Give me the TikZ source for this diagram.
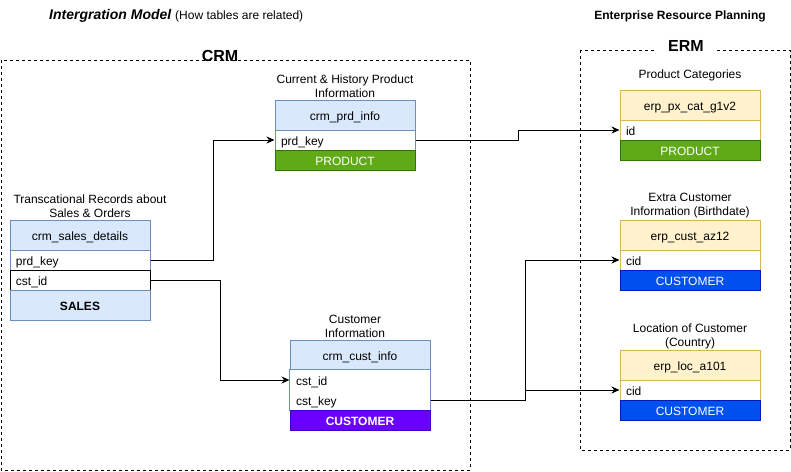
\documentclass[tikz,border=0pt]{standalone}
\usepackage{fontspec}
\setmainfont{Liberation Sans}
\usetikzlibrary{arrows.meta}
\definecolor{crmfill}{HTML}{DAE8FC}
\definecolor{crmline}{HTML}{6C8EBF}
\definecolor{erpfill}{HTML}{FFF2CC}
\definecolor{erpline}{HTML}{D6B656}
\definecolor{prodfill}{HTML}{60A917}
\definecolor{prodline}{HTML}{2D7600}
\definecolor{custfill}{HTML}{6A00FF}
\definecolor{custline}{HTML}{3700CC}
\definecolor{locfill}{HTML}{0050EF}
\definecolor{locline}{HTML}{001DBC}
\tikzset{
	tabhead/.style={minimum width=140pt, minimum height=30pt, inner sep=0pt, line width=1pt, text height=11pt, text depth=1pt},
	tabrow/.style={minimum height=20pt, text width=128pt, inner xsep=6pt, inner ysep=0pt, align=left, fill=white, line width=1pt, text height=11pt, text depth=1pt},
	tabtag/.style={minimum width=140pt, minimum height=20pt, inner sep=0pt, text=white, line width=1pt, text height=11pt, text depth=1pt},
	caption/.style={align=center, inner sep=0pt},
	link/.style={-{Stealth[length=8pt,width=7pt]}, line width=1pt},
	zone/.style={dash pattern=on 3pt off 3pt, line width=1pt}
}
\begin{document}
\begin{tikzpicture}[x=1pt, y=-1pt, font=\fontsize{12}{14}\selectfont]
		\useasboundingbox (0,0) rectangle (791,471);
		
		\node [anchor=west, inner sep=0pt] (title) at (49,16) {\fontsize{14}{16}\selectfont\bfseries\itshape Intergration Model \fontsize{12}{14}\selectfont\mdseries\upshape (How tables are related)};
		\node [inner sep=0pt, font=\fontsize{12}{14}\selectfont\bfseries] (erpTitle) at (680,16) {Enterprise Resource Planning};
		
		\draw [zone] (1,60) rectangle (470,470);
		\draw [zone] (580,50) rectangle (790,450);
		\node [inner sep=0pt, font=\fontsize{16}{18}\selectfont\bfseries] (crmLabel) at (220,56) {CRM};
		\node [fill=white, inner xsep=12pt, inner ysep=2pt, font=\fontsize{16}{18}\selectfont\bfseries] (erpLabel) at (686,46) {ERM};
		
		\node [caption] (piCap) at (345,86) {Current \& History Product\\Information};
		\node [tabhead, draw=crmline, fill=crmfill] (piHead) at (345,115) {crm\_prd\_info};
		\node [tabrow, draw=crmline] (piKey) at (345,140) {prd\_key};
		\node [tabtag, draw=prodline, fill=prodfill] (piTag) at (345,160) {PRODUCT};
		
		\node [caption] (sdCap) at (90,206) {Transcational Records about\\Sales \& Orders};
		\node [tabhead, draw=crmline, fill=crmfill] (sdHead) at (80,235) {crm\_sales\_details};
		\node [tabrow, draw=crmline] (sdPrd) at (80,260) {prd\_key};
		\node [tabrow, draw=black] (sdCst) at (80,280) {cst\_id};
		\node [tabhead, draw=crmline, fill=crmfill, font=\fontsize{12}{14}\selectfont\bfseries] (sdTag) at (80,305) {SALES};
		
		\node [caption] (ciCap) at (355,326) {Customer\\Information};
		\node [tabhead, draw=crmline, fill=crmfill] (ciHead) at (360,355) {crm\_cust\_info};
		\node [tabrow] (ciId) at (360,380) {cst\_id};
		\node [tabrow] (ciKey) at (360,400) {cst\_key};
		\draw [crmline, line width=1pt] (ciId.north west) rectangle (ciKey.south east);
		\node [tabtag, draw=custline, fill=custfill, font=\fontsize{12}{14}\selectfont\bfseries] (ciTag) at (360,420) {CUSTOMER};
		
		\node [caption] (pcCap) at (690,75) {Product Categories};
		\node [tabhead, draw=erpline, fill=erpfill] (pcHead) at (690,105) {erp\_px\_cat\_g1v2};
		\node [tabrow, draw=erpline] (pcId) at (690,130) {id};
		\node [tabtag, draw=prodline, fill=prodfill] (pcTag) at (690,150) {PRODUCT};
		
		\node [caption] (caCap) at (690,206) {Extra Customer\\Information (Birthdate)};
		\node [tabhead, draw=erpline, fill=erpfill] (caHead) at (690,235) {erp\_cust\_az12};
		\node [tabrow, draw=erpline] (caCid) at (690,260) {cid};
		\node [tabtag, draw=locline, fill=locfill] (caTag) at (690,280) {CUSTOMER};
		
		\node [caption] (laCap) at (690,336) {Location of Customer\\(Country)};
		\node [tabhead, draw=erpline, fill=erpfill] (laHead) at (690,365) {erp\_loc\_a101};
		\node [tabrow, draw=erpline] (laCid) at (690,390) {cid};
		\node [tabtag, draw=locline, fill=locfill] (laTag) at (690,410) {CUSTOMER};
		
		\draw [link] (sdPrd.east) -- ++(63,0) |- (piKey.west);
		\draw [link] (sdCst.east) -- ++(70,0) |- (ciId.west);
		\draw [link] (piKey.east) -- ++(103,0) |- (pcId.west);
		\draw [link] (ciKey.east) -- ++(95,0) |- (caCid.west);
		\draw [link] (ciKey.east) -- ++(95,0) |- (laCid.west);
		
\end{tikzpicture}
\end{document}
